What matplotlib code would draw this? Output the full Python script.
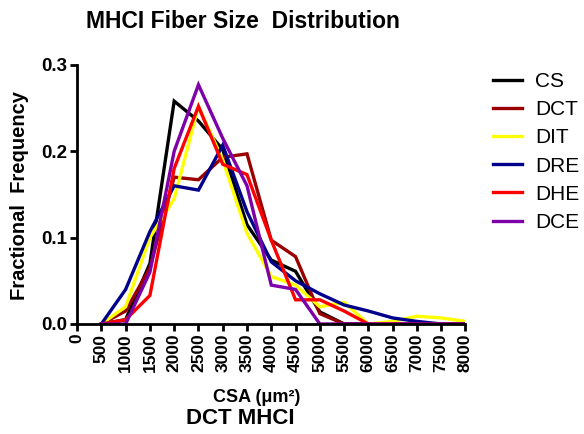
import numpy as np
import matplotlib.pyplot as plt

plt.rcParams['font.family'] = ['Liberation Sans', 'DejaVu Sans']

# bin centres (CSA, um^2)
csa = [500, 1000, 1500, 2000, 2500, 3000, 3500, 4000, 4500, 5000,
       5500, 6000, 6500, 7000, 7500, 8000]

cs  = [0, 0.005, 0.07, 0.258, 0.235, 0.202, 0.115, 0.074, 0.061, 0.014,
       0, 0, 0, 0, 0, 0]
dct = [0, 0.015, 0.065, 0.170, 0.167, 0.193, 0.197, 0.097, 0.078, 0.012,
       0, 0, 0, 0, 0, 0]
dit = [0, 0.020, 0.100, 0.145, 0.252, 0.190, 0.105, 0.055, 0.045, 0.020,
       0.025, 0, 0.003, 0.009, 0.007, 0.003]
dre = [0, 0.040, 0.107, 0.160, 0.155, 0.207, 0.130, 0.072, 0.050, 0.035,
       0.022, 0.015, 0.007, 0.003, 0, 0]
dhe = [0, 0.005, 0.033, 0.180, 0.252, 0.185, 0.173, 0.097, 0.028, 0.028,
       0.015, 0, 0, 0, 0, 0]
dce = [0, 0, 0.060, 0.200, 0.277, 0.215, 0.160, 0.045, 0.040, 0,
       0, 0, 0, 0, 0, 0]

names = ['CS', 'DCT', 'DIT', 'DRE', 'DHE', 'DCE']
series = [cs, dct, dit, dre, dhe, dce]
colors = ['#000000', '#9b0000', '#ffff00', '#00008b', '#ff0000', '#7d00a8']

fig = plt.figure(figsize=(5.84, 4.34), dpi=100)
ax = fig.add_axes([0.132, 0.2535, 0.665, 0.597])

for name, ys, c in zip(names, series, colors):
    ax.plot(csa, ys, color=c, lw=2.4, label=name, solid_joinstyle='miter')

ax.set_xlim(0, 8000)
ax.set_ylim(0, 0.3)
ax.set_xticks(np.arange(0, 8001, 500))
ax.set_xticklabels([str(v) for v in range(0, 8001, 500)], rotation=90,
                   fontsize=12.5, fontweight='bold')
ax.set_yticks([0, 0.1, 0.2, 0.3])
ax.set_yticklabels(['0.0', '0.1', '0.2', '0.3'], fontsize=13.5, fontweight='bold')
for s in ['top', 'right']:
    ax.spines[s].set_visible(False)
for s in ['left', 'bottom']:
    ax.spines[s].set_linewidth(2)
ax.tick_params(width=2, length=5, pad=2)

fig.text(20 / 584, 0.55, 'Fractional  Frequency', rotation=90, fontsize=14.5,
         fontweight='bold', ha='center', va='center')
fig.text(257 / 584, 1 - 397 / 434, 'CSA (μm²)', fontsize=13,
         fontweight='bold', ha='center', va='center')
fig.text(240 / 584, 1 - 418 / 434, 'DCT MHCI', fontsize=16, fontweight='bold',
         ha='center', va='center')
fig.text(243 / 584, 1 - 22 / 434, 'MHCI Fiber Size  Distribution', fontsize=16.5,
         fontweight='bold', ha='center', va='center')

ax.legend(loc='upper left', bbox_to_anchor=(493 / 584, 1 - 72 / 434),
          bbox_transform=fig.transFigure, frameon=False, borderpad=0,
          borderaxespad=0, fontsize=15, handlelength=1.4, labelspacing=0.44,
          handletextpad=0.62)

fig.savefig('out.png', dpi=100)
